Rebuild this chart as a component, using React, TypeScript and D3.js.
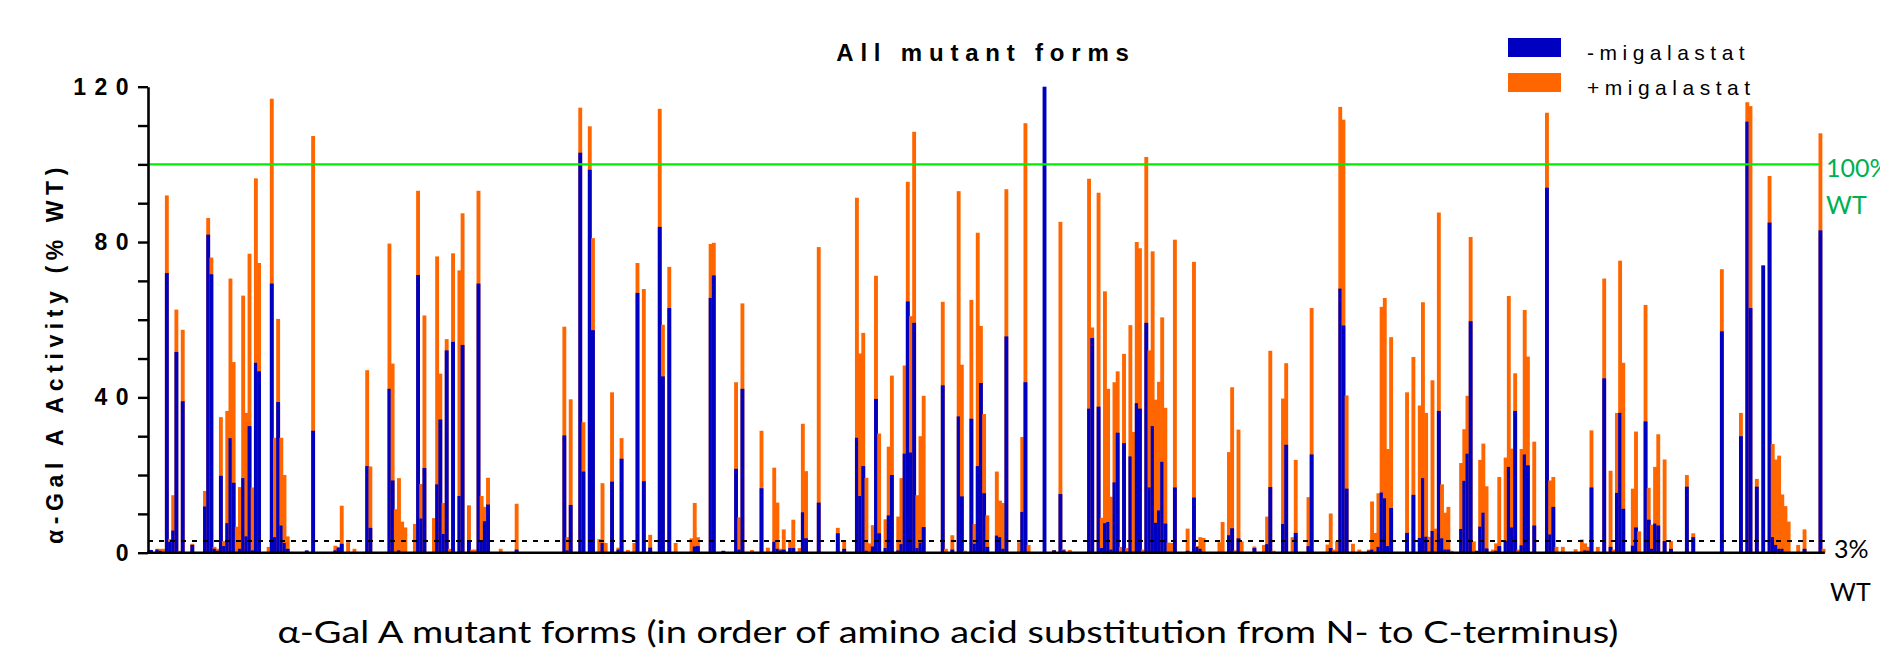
import React, { useEffect, useRef } from 'react';
import * as d3 from 'd3';

// number of mutant forms along the x axis (N- to C-terminus order)
const N_FORMS = 527;

// ordinal of each mutant form that shows a visible bar, with its activity (% WT)
// one line per stretch of the sequence, the three arrays are parallel
const mutantPos = [
  0, 2, 3, 4, 5, 6, 7, 8, 9, 10, 13, 17, 18, 19, 20, 21, 22, 23, 24, 25, 26, 27, 28, 29, 30, 31, 32, 33, 34, 37, 38, 39, 40, 41, 42, 43,
  49, 51, 58, 59, 60, 62, 64, 68, 69, 75, 76, 77, 78, 79, 80, 83, 84, 85, 86, 89, 90, 91, 92, 93,
  94, 95, 97, 98, 100, 101, 102, 103, 104, 105, 106, 110, 115, 130, 131, 132, 135, 136, 138, 139,
  141, 142, 143, 145, 147, 148, 150, 152, 153, 155, 157, 160, 161, 163, 165, 170, 171, 172, 176, 177, 180, 184, 185, 186,
  189, 192, 194, 196, 197, 198, 199, 201, 202, 204, 205, 206, 210, 216, 218, 222, 223, 224, 225, 226, 227, 228, 229, 231, 232, 233,
  235, 236, 237, 238, 239, 240, 241, 242, 243, 249, 250, 252, 254, 255, 256, 258, 259, 260, 261, 262, 263, 266, 267, 268, 269, 273, 274, 275, 276, 281,
  284, 286, 287, 289, 295, 296, 298, 299, 300, 301, 302, 303, 304, 305, 306, 307, 308, 309, 310, 311, 312, 313, 314, 315, 316, 317, 318, 319, 320, 321, 322, 326, 328, 329, 330, 331,
  336, 337, 339, 340, 341, 342, 343, 347, 350, 351, 352, 353, 356, 357, 359, 360, 364, 365, 370, 371, 372, 373, 374, 375, 376, 378,
  380, 383, 384, 385, 386, 387, 388, 389, 390, 395, 397, 399, 400, 401, 402, 403, 404, 405, 406, 407, 408, 409, 412, 413, 414, 415, 416, 417, 418, 419, 420, 422, 423, 424, 426, 427,
  428, 429, 430, 431, 432, 433, 435, 439, 440, 441, 442, 444, 448, 450, 451, 452, 453, 455, 457, 459, 460, 461, 462, 463, 466, 467, 468, 470, 471, 472, 473, 474,
  476, 478, 483, 485, 494, 500, 502, 503, 505, 507, 509, 510, 511, 512, 513, 514, 515, 518, 520, 525, 526,
];

// -migalastat
const minusMig = [
  0.7, 0.8, 0.5, 0, 72, 2.8, 5.7, 51.7, 0, 39, 2, 11.9, 81.9, 71.7, 1, 0.5, 19.8, 1.7, 7.6, 29.5, 18, 0, 1, 19.2, 4.2, 32.6, 0.6, 48.9, 46.7, 0, 69.3, 4, 38.8, 7, 2.5, 1,
  0.6, 31.4, 0.6, 1.3, 2.3, 0, 0, 22.3, 6.4, 42.2, 18.6, 0, 0.6, 0, 0, 0, 71.5, 8.8, 21.8, 0, 17.6, 34.3, 4.8, 52.1,
  0, 54.3, 14.6, 53.5, 3, 0, 0, 69.3, 3, 8.1, 12.4, 0, 0.8, 30.2, 0.6, 12.3, 103, 20.9, 98.6, 57.3,
  0, 2.5, 0, 18.3, 0.8, 24.2, 0, 0, 66.9, 18.4, 1.3, 83.9, 45.4, 63, 0, 0, 1.6, 1.7, 65.6, 71.4, 0.5, 21.6, 0.8, 42.2,
  0, 16.6, 0, 2.8, 1, 0.6, 0.8, 1.2, 1.2, 0, 10.4, 3.7, 12.9, 5, 1, 29.6, 14.6, 22.3, 0.5, 0, 1.6, 39.6, 5, 1.2, 9.6, 20,
  0.6, 2.2, 25.5, 64.7, 25.8, 59.2, 1.2, 2.6, 6.6, 43.1, 0, 0.8, 35.1, 14.5, 0, 34.5, 2.3, 22.3, 43.7, 15.3, 1.5, 4.4, 4, 1, 55.7, 0, 10.5, 43.9, 0, 120,
  0.6, 15.1, 0.6, 0, 37.1, 55.3, 37.6, 1.2, 7.6, 7.9, 0.8, 18.1, 30.9, 0, 28.2, 0, 24.8, 0, 38.5, 37.1, 0, 59.2, 16.8, 32.6, 7.7, 10.9, 23.4, 7.5, 0, 0, 16.8, 0.5, 14.2, 1.5, 1, 0,
  0, 0, 4.5, 6.3, 0, 3.7, 0, 1.2, 0, 2.2, 16.9, 0, 7.4, 27.8, 0, 5.1, 1.7, 25.3, 0, 1.2, 0, 0, 68, 58.5, 16.5, 0,
  0, 0.5, 0.8, 0, 1.5, 15.5, 14, 1.7, 11.5, 5.1, 14.9, 3.8, 19.2, 4.1, 0, 5.6, 0, 36.5, 3.7, 0.8, 0.8, 0, 6.1, 18.5, 25.5, 59.6, 0, 0.5, 6.7, 10.3, 1.1, 0, 0.5, 1.7, 3, 22.1,
  6.5, 36.5, 0, 1.9, 25.3, 22.5, 7, 94, 4.7, 11.8, 0, 0, 0, 0, 0.6, 0.5, 16.8, 0, 44.9, 1.5, 0, 15.4, 36, 11.3, 1.8, 6.5, 0, 33.8, 8.5, 1, 7.5, 7,
  3, 1, 17, 4, 57, 30, 111, 63, 17, 74, 85, 4, 2, 1, 1, 0, 0, 0, 1, 83, 0,
];

// +migalastat
const plusMig = [
  0.5, 1, 1, 1, 92, 3.5, 14.8, 62.6, 0.5, 57.4, 2.3, 15.9, 86.2, 76, 1.5, 1, 34.9, 3, 36.5, 70.6, 49.1, 6.7, 16.9, 66.2, 36, 77, 16.8, 96.4, 74.6, 1.5, 116.9, 29.6, 60.2, 29.6, 20, 4.2,
  0, 107.3, 1.8, 1.5, 12.1, 2.7, 1, 47, 22.2, 79.6, 48.7, 11.2, 19.2, 8, 6.5, 7.4, 93.2, 17.7, 61.1, 8.9, 76.3, 46.1, 12.8, 55,
  1, 77.1, 72.7, 87.4, 12.2, 0.8, 0.8, 93.2, 14.6, 11.8, 19.3, 1, 12.6, 58.2, 4, 39.5, 114.6, 33.6, 109.8, 81,
  3.5, 17.9, 2.5, 41.3, 1.3, 29.5, 0.7, 2.5, 74.6, 67.9, 4.6, 114.3, 58.7, 73.6, 2.5, 3.7, 12.8, 4, 79.5, 79.8, 0, 43.9, 9.1, 64.2,
  0.7, 31.4, 1.3, 21.9, 12.9, 1, 6, 2.9, 8.5, 1.2, 33.2, 21, 78.7, 6.4, 3, 91.4, 51.3, 56.6, 19.3, 2.4, 7.1, 71.3, 30.7, 8.6, 27.3, 45.6,
  9.3, 19.2, 48.2, 95.5, 60.9, 108.4, 14.8, 30, 40.4, 64.6, 1, 4.5, 93.1, 48.4, 0.5, 65.1, 7.4, 82.4, 58.4, 35.7, 9.6, 20.9, 13.4, 12.8, 93.6, 2.7, 29.8, 110.6, 2, 0,
  0.7, 85.2, 0.9, 0.7, 96.3, 58, 92.7, 9, 67.3, 42.2, 14.4, 43.9, 46.7, 1.5, 51.2, 1.2, 58.6, 31.1, 80, 78.4, 0.8, 101.9, 52.1, 77.6, 39.4, 44, 60.6, 37.3, 2.6, 2.5, 80.6, 6.2, 74.9, 1.7, 4, 3.8,
  2.7, 7.9, 25.9, 42.6, 0.6, 31.7, 2.9, 1.6, 2, 9.3, 52, 0.5, 39.7, 48.8, 4, 23.9, 14.3, 63, 2.1, 10.1, 0.8, 3, 114.8, 111.5, 40.5, 2.3,
  0.8, 0.8, 13.2, 5.1, 15.3, 63.3, 65.6, 26.7, 55.5, 41.3, 50.4, 37.9, 64.5, 36, 4.1, 44.4, 6.2, 87.6, 17.6, 10.3, 11.8, 0.5, 23.1, 31.8, 40.4, 81.3, 2.9, 0, 23.9, 28.1, 17.1, 0.8, 2.4, 19.5, 24.5, 66.1,
  26.8, 46.2, 0.8, 26.7, 62.5, 50.5, 28.6, 113.3, 18.6, 19.5, 1.5, 1.5, 0.9, 3.4, 2.4, 1.5, 31.5, 1.5, 70.6, 21.1, 0.8, 36, 75.2, 48.9, 16.5, 31.2, 5.5, 63.8, 16.7, 7.2, 22.1, 30.5,
  24, 3, 20, 5, 73, 36, 116, 115, 19, 0, 97, 28, 24, 25, 15, 12, 8, 2, 6, 108, 1,
];

const yTicks = [0, 10, 20, 30, 40, 50, 60, 70, 80, 90, 100, 110, 120];
const yLabelled = [0, 40, 80, 120];
const wtLine = 100; // 100% WT
const cutoffLine = 3; // 3% WT

const seriesNames = ['-migalastat', '+migalastat'];
const BLUE = '#0000c0';
const ORANGE = '#ff6600';
const GREEN = '#00ee00';
const GREEN_TEXT = '#00b050';

function App() {
  const axisRef = useRef<SVGGElement>(null);

  const width = 1880;
  const height = 652;
  const plotLeft = 149;
  const slot = 3.18;

  const x = d3.scaleBand<number>()
    .domain(d3.range(N_FORMS))
    .range([plotLeft, plotLeft + N_FORMS * slot])
    .padding(0);

  const y = d3.scaleLinear()
    .domain([0, 120])
    .range([552.7, 86.7]);

  const barW = x.bandwidth() * 1.22;

  const rows = mutantPos.map((p, i) => ({ p, minus: minusMig[i], plus: plusMig[i] }));

  useEffect(() => {
    // y axis
    const g = d3.select(axisRef.current);
    g.selectAll('*').remove();
    g.call(
      d3.axisLeft(y)
        .tickValues(yTicks)
        .tickSize(10)
        .tickSizeOuter(0)
        .tickPadding(1)
        .tickFormat((d: any) => (yLabelled.includes(d) ? String(d) : ''))
    );
    g.select('.domain').attr('stroke', '#000').attr('stroke-width', 2.6);
    g.selectAll('.tick line').attr('stroke', '#000').attr('stroke-width', 2.4);
    g.selectAll('.tick text')
      .attr('fill', '#000')
      .style('font-family', '"Liberation Sans", Arial, sans-serif')
      .style('font-weight', 'bold')
      .style('font-size', '23px')
      .style('letter-spacing', '8.5px');
  }, []);

  const xEnd = plotLeft + N_FORMS * slot;
  const sans = '"Liberation Sans", Arial, sans-serif';
  const humanist = 'Lato, "Open Sans", sans-serif';

  return (
    <div style={{ position: 'absolute', left: 0, top: 0 }}>
      <svg width={width} height={height} style={{ display: 'block', background: '#fff' }}>
        {/* bars: orange (+) behind, blue (-) in front */}
        <g>
          {rows.map((d) => (
            <g key={d.p}>
              {d.plus > 0 && (
                <rect x={x(d.p)} y={y(d.plus)} width={barW} height={y(0) - y(d.plus)} fill={ORANGE} />
              )}
              {d.minus > 0 && (
                <rect x={x(d.p)} y={y(d.minus)} width={barW} height={y(0) - y(d.minus)} fill={BLUE} />
              )}
            </g>
          ))}
        </g>

        {/* reference lines */}
        <line x1={148} x2={1820} y1={y(wtLine)} y2={y(wtLine)} stroke={GREEN} strokeWidth={2.2} />
        <line x1={148} x2={xEnd} y1={y(cutoffLine)} y2={y(cutoffLine)} stroke="#000" strokeWidth={2} strokeDasharray="5,6" />

        {/* x baseline */}
        <line x1={147} x2={xEnd} y1={y(0)} y2={y(0)} stroke="#000" strokeWidth={2.6} />

        <g ref={axisRef} transform="translate(148,0)" />

        {/* title */}
        <text x={986} y={61} textAnchor="middle" fontFamily={sans} fontWeight="bold" fontSize={24} letterSpacing={6.8}>
          All mutant forms
        </text>

        {/* y title */}
        <text
          transform={`translate(63,${353}) rotate(-90)`}
          textAnchor="middle"
          fontFamily={sans}
          fontWeight="bold"
          fontSize={23}
          letterSpacing={5.6}
        >
          α-Gal A Activity (% WT)
        </text>

        {/* x title */}
        <text x={948} y={643} textAnchor="middle" fontFamily={humanist} fontSize={31} textLength={1341} lengthAdjust="spacingAndGlyphs">
          α-Gal A mutant forms (in order of amino acid substitution from N- to C-terminus)
        </text>

        {/* right labels */}
        <text x={1826} y={177} fill={GREEN_TEXT} fontFamily={humanist} fontSize={25}>100%</text>
        <text x={1826} y={214} fill={GREEN_TEXT} fontFamily={humanist} fontSize={25}>WT</text>
        <text x={1834} y={558} fill="#000" fontFamily={humanist} fontSize={25}>3%</text>
        <text x={1830} y={601} fill="#000" fontFamily={humanist} fontSize={25}>WT</text>

        {/* legend */}
        <rect x={1508} y={38} width={53} height={19} fill={BLUE} />
        <rect x={1508} y={73} width={53} height={19} fill={ORANGE} />
        <text x={1587} y={60} fontFamily={sans} fontSize={21} letterSpacing={5.5}>{seriesNames[0]}</text>
        <text x={1587} y={95} fontFamily={sans} fontSize={21} letterSpacing={5.5}>{seriesNames[1]}</text>
      </svg>
    </div>
  );
}

export default App;
